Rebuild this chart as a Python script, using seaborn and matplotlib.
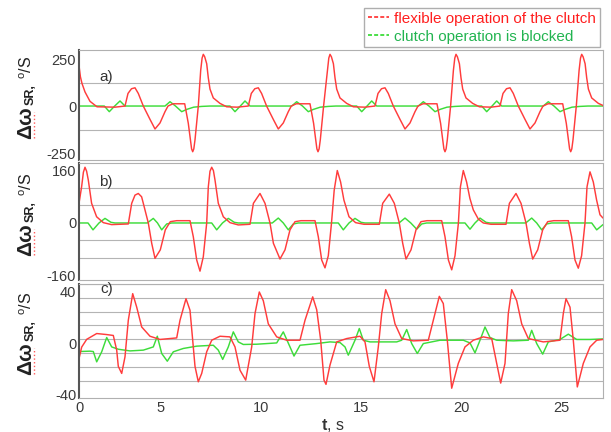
import numpy as np
import pandas as pd
import matplotlib
matplotlib.use("Agg")
import matplotlib.pyplot as plt
from matplotlib.lines import Line2D
import seaborn as sns

# ---------------- data ----------------
series_names = ["flexible operation of the clutch", "clutch operation is blocked"]

# panel a) red: flexible operation of the clutch
a_red_t = [0.90, 0.97, 1.05, 1.20, 1.45, 1.80, 2.70,
           3.20, 3.35, 3.525, 3.70, 3.865, 4.115, 4.45, 4.70, 4.95, 5.20, 5.35, 5.60,
           6.185, 6.365, 6.45, 6.53, 6.585, 6.64, 6.70, 6.865,
           6.985, 7.055, 7.115, 7.185, 7.285, 7.365, 7.45, 7.615, 7.95, 8.285, 8.80,
           9.365, 9.515, 9.69, 9.865, 10.03, 10.28, 10.615, 10.865, 11.115, 11.365, 11.515, 11.765,
           12.45, 12.63, 12.715, 12.795, 12.85, 12.905, 12.965, 13.13,
           13.32, 13.39, 13.45, 13.52, 13.62, 13.70, 13.785, 13.95, 14.285, 14.62, 15.20,
           15.70, 15.85, 16.025, 16.20, 16.365, 16.615, 16.95, 17.20, 17.45, 17.70, 17.85, 18.10,
           18.80, 18.98, 19.065, 19.145, 19.20, 19.255, 19.315, 19.48,
           19.62, 19.69, 19.75, 19.82, 19.92, 20.00, 20.085, 20.25, 20.585, 20.92, 21.50,
           21.95, 22.10, 22.275, 22.45, 22.615, 22.865, 23.20, 23.45, 23.70, 23.95, 24.10, 24.35,
           25.085, 25.265, 25.35, 25.43, 25.485, 25.54, 25.60, 25.765,
           25.905, 25.975, 26.035, 26.105, 26.205, 26.285, 26.37, 26.535, 26.87, 27.10]
a_red_v = [215, 156, 120, 75, 25, -4, -6,
           0, 67, 92, 97, 67, 0, -71, -122, -90, -30, 0, 12,
           12, -92, -163, -228, -243, -228, -180, 0,
           190, 255, 275, 262, 225, 150, 90, 43, 14, -4, -6,
           0, 67, 92, 97, 67, 0, -71, -122, -90, -30, 0, 12,
           12, -92, -163, -228, -243, -228, -180, 0,
           190, 255, 275, 262, 225, 150, 90, 43, 14, -4, -6,
           0, 67, 92, 97, 67, 0, -71, -122, -90, -30, 0, 12,
           12, -92, -163, -228, -243, -228, -180, 0,
           190, 255, 275, 262, 225, 150, 90, 43, 14, -4, -6,
           0, 67, 92, 97, 67, 0, -71, -122, -90, -30, 0, 12,
           12, -92, -163, -228, -243, -228, -180, 0,
           190, 255, 275, 262, 225, 150, 90, 43, 14, 3]

# panel a) green: clutch operation is blocked
a_grn_t = [0.90, 2.165, 2.415, 2.665, 2.95, 3.20, 5.20, 5.45, 5.725, 6.035, 6.285, 6.635, 7.035, 7.45,
           8.45, 8.70, 8.95, 9.20, 9.45, 11.535, 11.785, 12.075, 12.365, 12.615, 12.965, 13.365, 13.75,
           14.785, 15.035, 15.285, 15.535, 15.785, 17.865, 18.115, 18.40, 18.70, 18.95, 19.30, 19.70, 20.10,
           21.035, 21.285, 21.535, 21.785, 22.035, 24.115, 24.365, 24.65, 24.95, 25.20, 25.55, 25.95, 26.35, 27.10]
a_grn_v = [0, 0, -30, -2, 27, 0, 0, 23, 0, -30, -18, -6, -2, 0,
           0, -30, -2, 27, 0, 0, 23, 0, -30, -18, -6, -2, 0,
           0, -30, -2, 27, 0, 0, 23, 0, -30, -18, -6, -2, 0,
           0, -30, -2, 27, 0, 0, 23, 0, -30, -18, -6, -2, 0, 0]

# panel b) red
b_red_t = [0.90, 1.03, 1.12, 1.20, 1.28, 1.365, 1.53, 1.78, 2.115, 2.53,
           3.365, 3.535, 3.70, 3.865, 4.03, 4.115, 4.365, 4.535, 4.70, 4.965, 5.215, 5.465, 5.785,
           6.45, 6.615, 6.785, 6.95, 7.115, 7.285, 7.365, 7.45, 7.535, 7.62, 7.70, 7.865, 8.115, 8.45, 8.865,
           9.45, 9.62, 9.95, 10.20, 10.45, 10.62, 10.95, 11.20, 11.45, 11.70, 12.00,
           12.70, 12.865, 13.035, 13.20, 13.365, 13.525, 13.66, 13.815, 13.98, 14.145, 14.40, 14.73, 15.15,
           15.915, 16.085, 16.415, 16.665, 16.915, 17.085, 17.25, 17.50, 17.75, 18.00, 18.30,
           19.035, 19.20, 19.37, 19.535, 19.70, 19.87, 19.97, 20.115, 20.28, 20.445, 20.615, 20.865, 21.115, 21.50,
           22.25, 22.42, 22.75, 23.00, 23.25, 23.42, 23.585, 23.835, 24.085, 24.335, 24.635,
           25.365, 25.53, 25.70, 25.865, 26.03, 26.20, 26.30, 26.45, 26.615, 26.78, 26.95, 27.10]
b_red_v = [60, 110, 155, 170, 158, 131, 60, 19, 1, -5,
           -3, 60, 85, 90, 80, 60, 0, -62, -108, -82, -21, 4, 7,
           7, -42, -113, -147, -103, 0, 110, 158, 170, 160, 131, 60, 19, 1, -6,
           -4, 60, 90, 60, 0, -62, -110, -82, -21, 4, 7,
           7, -42, -113, -137, -100, 0, 100, 160, 125, 70, 19, 1, -4,
           -4, 60, 88, 60, 0, -62, -110, -82, -21, 4, 7,
           7, -42, -113, -143, -100, 0, 110, 160, 125, 75, 40, 12, 0, -4,
           -4, 60, 90, 60, 0, -62, -110, -82, -21, 4, 7,
           7, -42, -113, -138, -100, 0, 110, 156, 125, 70, 25, 15]

# panel b) green
b_grn_t = [0.90, 1.35, 1.60, 1.90, 2.20, 2.50, 2.70, 4.315, 4.615, 4.825, 5.035, 5.285, 5.535,
           7.535, 7.785, 8.075, 8.365, 8.665, 8.865, 10.565, 10.865, 11.115, 11.365, 11.615, 11.865,
           13.865, 14.115, 14.40, 14.70, 15.00, 15.20, 16.90, 17.20, 17.49, 17.785, 18.035, 18.285,
           20.20, 20.45, 20.70, 20.95, 21.25, 21.45, 23.235, 23.535, 23.785, 24.035, 24.285, 24.535,
           26.535, 26.785, 27.10]
b_grn_v = [0, 0, -21, 0, 14, 2, 0, 0, 14, 0, -21, -3, 0,
           0, -21, 0, 14, 2, 0, 0, 15, 0, -21, -3, 0,
           0, -21, 0, 14, 2, 0, 0, 15, 0, -19, -3, 0,
           0, -19, 0, 15, 2, 0, 0, 15, 0, -21, -3, 0,
           0, -21, -5]

# panel c) red
c_red_t = [0.90, 1.035, 1.285, 1.785, 2.285, 2.615, 2.785, 2.865, 3.035, 3.20, 3.365, 3.585, 3.785, 4.035,
           4.45, 4.95, 5.785, 5.95, 6.25, 6.45, 6.585, 6.70, 6.865, 7.035, 7.285, 7.535, 7.95, 8.45,
           8.70, 8.95, 9.235, 9.535, 9.70, 9.915, 10.115, 10.365, 10.785, 11.285, 11.95, 12.20, 12.585,
           12.785, 12.985, 13.15, 13.25, 13.45, 13.785, 14.285, 14.95, 15.20, 15.415, 15.65, 15.865,
           16.035, 16.235, 16.45, 16.70, 17.035, 17.615, 18.365, 18.615, 18.915, 19.115, 19.315, 19.535,
           19.865, 20.20, 20.615, 21.115, 21.535, 21.785, 21.985, 22.20, 22.365, 22.535, 22.785, 23.035,
           23.365, 24.115, 24.95, 25.115, 25.25, 25.45, 25.615, 25.815, 26.115, 26.45, 26.785, 27.10]
c_red_v = [-12, -3, 3, 7.5, 6.7, 6, -5.4, -18, -23.5, -10.6, 17.8, 38.5, 28, 12.6,
           5.4, 2.9, 4.1, 17.8, 34.6, 25.6, 2.3, -18, -30, -23.5, -6.7, 2.3, 5.4, 4.9,
           -2.9, -21, -28.7, -2.9, 23, 39.8, 33, 15, 4.9, 2.3, 2.3, 17.8, 36,
           26, 2.3, -28.7, -32, -17, 1, 3.6, 5.4, 1, -18, -30, -2.9,
           23, 41.6, 33, 15, 3.6, 1.8, 2.3, 17.8, 36.4, 30.8, 2.3, -35,
           -15.7, -2.9, 2.3, 4.9, 3.6, -15.7, -31, -15.7, 23, 41.6, 33, 15,
           3.6, 1, 2.3, 23, 34.6, 28, 2.3, -34, -15.7, -2.9, 2.3, 2.9]

# panel c) green
c_grn_t = [0.90, 1.45, 1.615, 1.785, 2.035, 2.285, 2.535, 2.865, 3.45, 4.115, 4.615, 4.815, 5.035,
           5.315, 5.615, 6.115, 6.785, 7.615, 7.865, 8.085, 8.365, 8.615, 8.865, 9.115, 9.785, 10.785,
           11.115, 11.45, 11.65, 11.95, 12.785, 13.45, 13.95, 14.20, 14.365, 14.70, 14.915, 15.115, 15.45,
           16.785, 17.035, 17.285, 17.535, 17.815, 18.115, 18.95, 20.115, 20.45, 20.70, 20.95, 21.20,
           21.45, 21.785, 22.615, 23.365, 23.535, 23.785, 24.085, 24.365, 24.95, 25.365, 25.785, 26.45, 27.10]
c_grn_v = [-6.5, -6.2, -6.5, -14.5, -6.7, 4.4, -2.9, -4.7, -6, -5.4, -2.9, 5.4, -8,
           -14, -6.7, -4.1, -2.3, -1.6, -5.4, -12.6, -2.9, 8.8, 1, -1, -0.8, 0.2,
           8.8, -2.9, -10, -1.6, -0.3, 1, 0.5, -2.9, -9.3, 2.3, 11.4, 2.3, 1,
           1, 2.3, 10.6, -0.3, -8, -0.3, 2.3, 2.3, 0.2, -7.5, 2.3, 12.6,
           4.4, 2.3, 1.8, 2.3, 10, -0.3, -8.5, 1, 2.9, 7, 2.9, 2.9, 3.3]

panel_labels = ["a)", "b)", "c)"]
y_major = [[-250, 0, 250], [-160, 0, 160], [-40, 0, 40]]
x_tick_labels = ["0", "5", "10", "15", "20", "25"]
x_label = "t, s"

# ---------------- style ----------------
sns.set_theme(style="white")
plt.rcParams["font.family"] = ["Liberation Sans", "DejaVu Sans"]
plt.rcParams["mathtext.fontset"] = "custom"
plt.rcParams["mathtext.rm"] = "Liberation Sans"
plt.rcParams["mathtext.bf"] = "Liberation Sans:bold"
plt.rcParams["mathtext.it"] = "Liberation Sans:italic"

RED = "#ff3c3c"
GREEN = "#3ddc3a"
RED_TXT = "#ff1f1f"
GREEN_TXT = "#22b450"
palette = {series_names[0]: RED, series_names[1]: GREEN}

W, H = 611, 432
fig = plt.figure(figsize=(W / 100, H / 100), dpi=100)


def rect(top, bot, left=79, right=603):
    return [left / W, 1 - bot / H, (right - left) / W, (bot - top) / H]


panel_px = [(50, 160), (163, 280), (284, 398)]
ylims = [(-287, 298), (-174, 183), (-42.6, 45.7)]
y_grid = [[-250, -125, 0, 125, 250],
          [-160, -320 / 3, -160 / 3, 0, 160 / 3, 320 / 3, 160],
          list(np.linspace(-40, 46, 9))]
data = [(a_red_t, a_red_v, a_grn_t, a_grn_v),
        (b_red_t, b_red_v, b_grn_t, b_grn_v),
        (c_red_t, c_red_v, c_grn_t, c_grn_v)]

axes = []
for i, ((top, bot), (rt, rv, gt, gv)) in enumerate(zip(panel_px, data)):
    ax = fig.add_axes(rect(top, bot))
    df = pd.concat([
        pd.DataFrame({"t": rt, "v": rv, "series": series_names[0]}),
        pd.DataFrame({"t": gt, "v": gv, "series": series_names[1]}),
    ], ignore_index=True)
    sns.lineplot(data=df, x="t", y="v", hue="series", palette=palette,
                 estimator=None, sort=False, legend=False, lw=1.05, ax=ax,
                 hue_order=[series_names[1], series_names[0]])
    ax.set_xlim(0.9, 27.1)
    ax.set_ylim(*ylims[i])
    ax.set_xlabel("")
    ax.set_ylabel("")
    ax.set_yticks(y_major[i])
    ax.set_yticklabels([str(v) for v in y_major[i]])
    ax.set_yticks(y_grid[i], minor=True)
    ax.set_xticks([0.9, 5, 10, 15, 20, 25])
    ax.set_xticks([5, 10, 15, 20, 25], minor=True)
    if i == 2:
        ax.set_xticklabels(x_tick_labels)
    else:
        ax.set_xticklabels([])
    ax.grid(False, which="major")
    ax.grid(True, which="minor", color="#b4b4b4", lw=0.8)
    ax.tick_params(which="both", length=0, labelsize=10.5, labelcolor="#3a3a3a", pad=2)
    for side in ["top", "right", "bottom"]:
        ax.spines[side].set_color("#b0b0b0")
        ax.spines[side].set_linewidth(0.8)
    ax.spines["left"].set_color("#555555")
    ax.spines["left"].set_linewidth(1.5)
    ax.set_axisbelow(True)
    axes.append(ax)

# panel letters
for lab, (x, y) in zip(panel_labels, [(106, 77), (106, 182), (107, 289)]):
    fig.text(x / W, 1 - y / H, lab, ha="center", va="center", fontsize=11, color="#333333")

# y labels  (Δω SR, °/S)
for (top, bot) in panel_px:
    pc = (top + bot) / 2
    fig.text(26 / W, 1 - (pc + 34) / H, "Δω", rotation=90, ha="center", va="bottom",
             fontsize=15, fontweight="bold", color="#222222")
    fig.text(31 / W, 1 - (pc + 0) / H, "SR,", rotation=90, ha="center", va="bottom",
             fontsize=9, fontweight="bold", color="#222222")
    fig.text(27 / W, 1 - (pc - 26) / H, r"$^{\mathrm{o}}$/S", rotation=90, ha="center",
             va="bottom", fontsize=11.5, color="#222222")
    fig.add_artist(Line2D([33.5 / W, 33.5 / W], [1 - (pc + 33) / H, 1 - (pc + 7) / H],
                          transform=fig.transFigure, color="#ff5a5a", lw=1.0, ls=":"))

# x label
fig.text(333 / W, 1 - 425 / H, r"$\mathbf{t}$, s", ha="center", va="center",
         fontsize=11.5, color="#333333")

# legend
handles = [Line2D([0], [0], color=RED, lw=1.3, ls=(0, (2.2, 1.2))),
           Line2D([0], [0], color=GREEN, lw=1.3, ls=(0, (2.2, 1.2)))]
leg = fig.legend(handles, series_names, loc="upper right",
                 bbox_to_anchor=(600 / W, 1 - 8 / H), bbox_transform=fig.transFigure,
                 frameon=True, fancybox=False, fontsize=11, handlelength=1.4,
                 handletextpad=0.35, labelspacing=0.25, borderpad=0.25, borderaxespad=0)
leg.get_frame().set_edgecolor("#9a9a9a")
leg.get_frame().set_linewidth(1.0)
for txt, c in zip(leg.get_texts(), [RED_TXT, GREEN_TXT]):
    txt.set_color(c)

fig.savefig("out.png", dpi=100)
